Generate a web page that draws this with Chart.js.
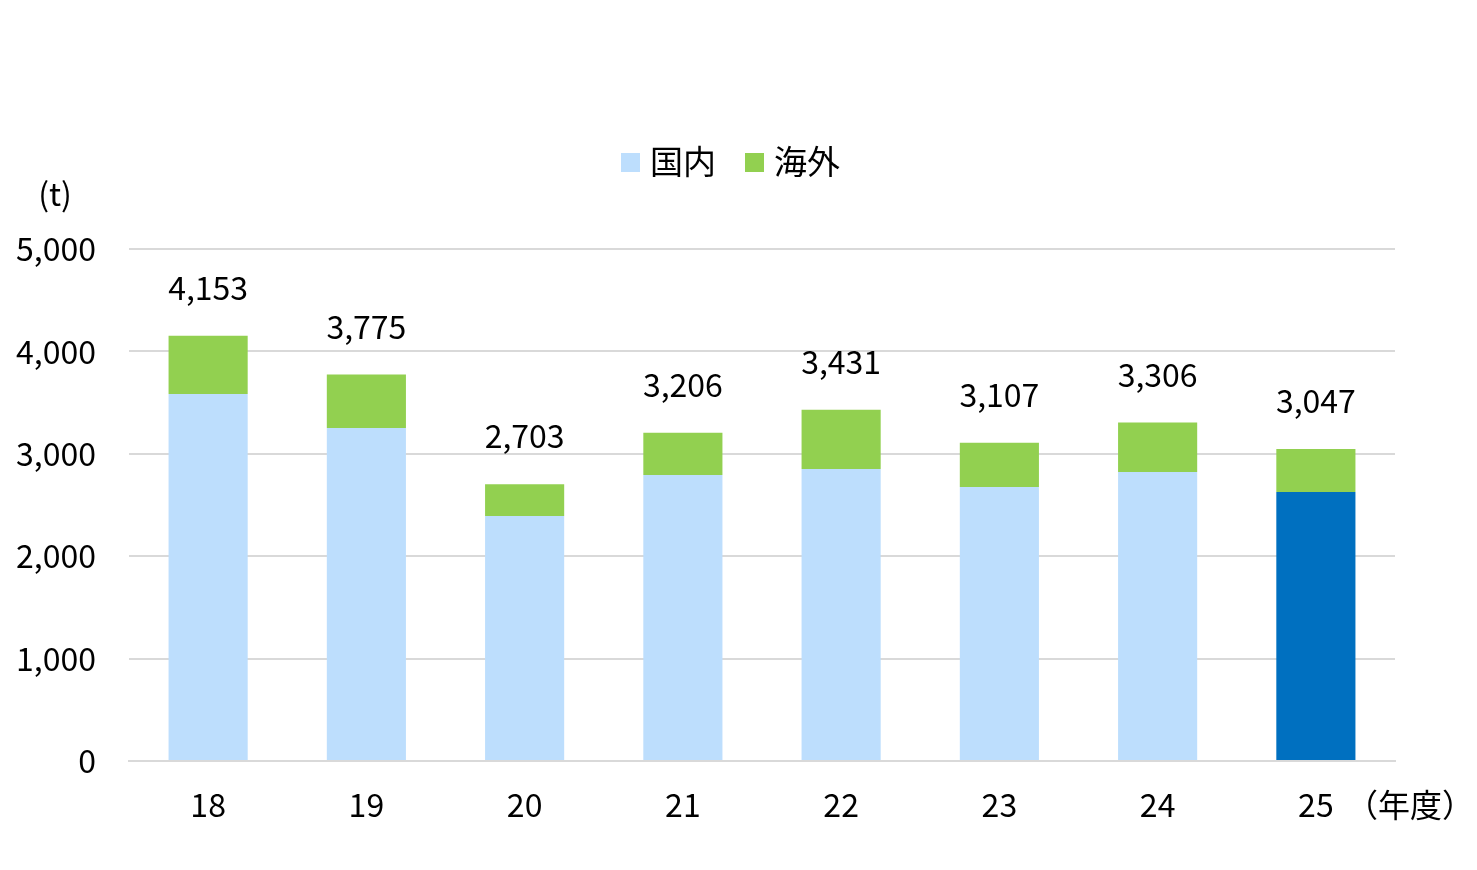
<!DOCTYPE html>
<html>
<head>
<meta charset="utf-8">
<script src="https://cdn.jsdelivr.net/npm/chart.js@4.4.1/dist/chart.umd.min.js"></script>
<style>
  html, body { margin: 0; padding: 0; background: #fff; }
  .chart-wrap { width: 1477px; height: 870px; }
</style>
</head>
<body>
<div class="chart-wrap"><canvas id="c" width="1477" height="870"></canvas></div>
<script>
const FONT = '"Noto Sans CJK JP", "Noto Sans", sans-serif';
const GRID = '#d9d9d9';

const years = ['18', '19', '20', '21', '22', '23', '24', '25'];
const domestic = [3584, 3252, 2393, 2793, 2852, 2676, 2822, 2627];
const overseas = [569, 523, 310, 413, 579, 431, 484, 420];
const totals = [4153, 3775, 2703, 3206, 3431, 3107, 3306, 3047];
const yTicks = [0, 1000, 2000, 3000, 4000, 5000];

const LIGHT = '#bddefd';
const DARK = '#0070c0';
const GREEN = '#92d050';

// last year's domestic bar is highlighted
const domColors = years.map((y, i) => i === years.length - 1 ? DARK : LIGHT);

const extras = {
  id: 'extras',
  afterDatasetsDraw(chart) {
    const { ctx, scales: { x, y } } = chart;
    ctx.save();
    ctx.fillStyle = '#000';
    ctx.font = `32px ${FONT}`;
    ctx.textAlign = 'center';
    ctx.textBaseline = 'middle';
    totals.forEach((t, i) => {
      ctx.fillText(t.toLocaleString('en-US'), x.getPixelForValue(i), y.getPixelForValue(t) - 48);
    });

    // unit labels
    ctx.fillText('(t)', 55, 194);
    ctx.textAlign = 'left';
    ctx.fillText('（年度）', 1346, 805);

    // legend
    const items = [{ label: '国内', color: LIGHT }, { label: '海外', color: GREEN }];
    ctx.font = `33px ${FONT}`;
    let lx = 621;
    items.forEach(it => {
      ctx.fillStyle = it.color;
      ctx.fillRect(lx, 153, 19, 19);
      ctx.fillStyle = '#000';
      ctx.fillText(it.label, lx + 29, 161);
      lx += 124;
    });
    ctx.restore();
  }
};

new Chart(document.getElementById('c'), {
  type: 'bar',
  data: {
    labels: years,
    datasets: [
      { label: '国内', data: domestic, backgroundColor: domColors, stack: 's' },
      { label: '海外', data: overseas, backgroundColor: GREEN, stack: 's' }
    ]
  },
  options: {
    responsive: false,
    animation: false,
    layout: { padding: { top: 249, right: 82, bottom: 0, left: 0 } },
    plugins: { legend: { display: false }, tooltip: { enabled: false } },
    datasets: { bar: { barPercentage: 0.5, categoryPercentage: 1 } },
    scales: {
      x: {
        stacked: true,
        grid: { display: false },
        border: { color: GRID, width: 2 },
        ticks: { color: '#000', font: { family: FONT, size: 32 }, padding: 17 },
        afterFit: s => { s.height = 109; }
      },
      y: {
        stacked: true,
        min: 0, max: 5000,
        afterBuildTicks: s => { s.ticks = yTicks.map(v => ({ value: v })); },
        grid: { color: GRID, lineWidth: 2, drawTicks: false },
        border: { display: false },
        ticks: {
          color: '#000', font: { family: FONT, size: 32 }, padding: 33,
          callback: v => v.toLocaleString('en-US')
        },
        afterFit: s => { s.width = 129; }
      }
    }
  },
  plugins: [extras]
});
</script>
</body>
</html>
